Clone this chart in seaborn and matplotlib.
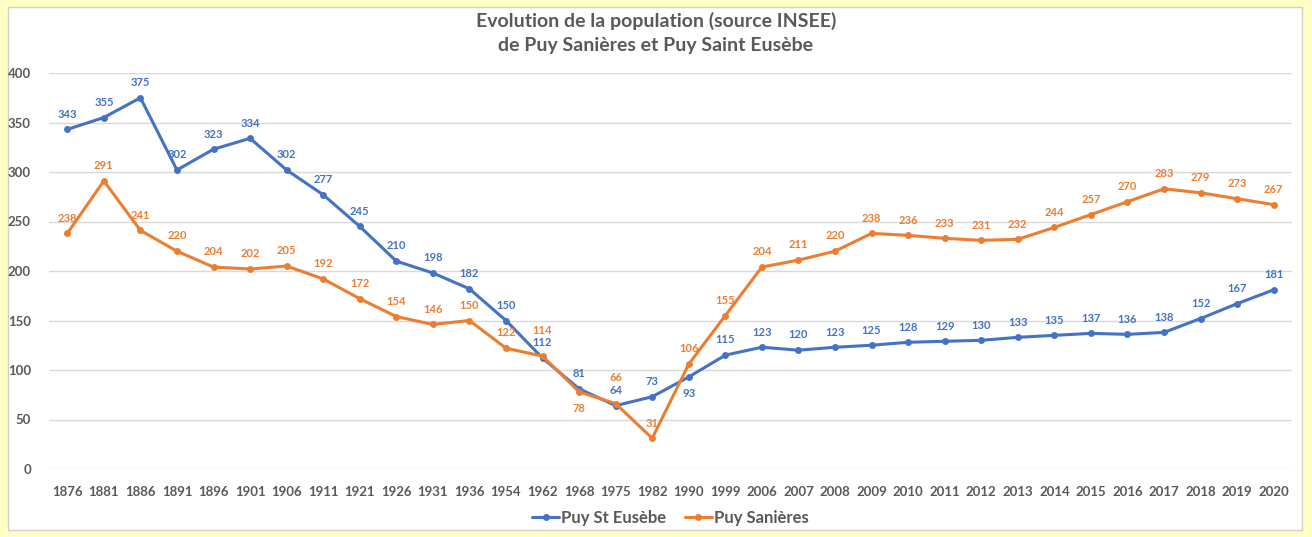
import numpy as np
import pandas as pd
import matplotlib
matplotlib.use("Agg")
import matplotlib.pyplot as plt
from matplotlib.patches import Rectangle
import seaborn as sns

years = ["1876", "1881", "1886", "1891", "1896", "1901", "1906", "1911", "1921", "1926",
         "1931", "1936", "1954", "1962", "1968", "1975", "1982", "1990", "1999", "2006",
         "2007", "2008", "2009", "2010", "2011", "2012", "2013", "2014", "2015", "2016",
         "2017", "2018", "2019", "2020"]
st_eusebe = [343, 355, 375, 302, 323, 334, 302, 277, 245, 210, 198, 182, 150, 112, 81, 64,
             73, 93, 115, 123, 120, 123, 125, 128, 129, 130, 133, 135, 137, 136, 138, 152,
             167, 181]
sanieres = [238, 291, 241, 220, 204, 202, 205, 192, 172, 154, 146, 150, 122, 114, 78, 66,
            31, 106, 155, 204, 211, 220, 238, 236, 233, 231, 232, 244, 257, 270, 283, 279,
            273, 267]
series_names = ["Puy St Eusèbe", "Puy Sanières"]
title = "Evolution de la population (source INSEE)\nde Puy Sanières et Puy Saint Eusèbe"

BLUE = "#4472C4"
ORANGE = "#ED7D31"
GREY = "#595959"

sns.set_theme(style="white")
plt.rcParams["font.family"] = ["Lato", "DejaVu Sans"]

df = pd.DataFrame({
    "year": years * 2,
    "pos": list(range(len(years))) * 2,
    "pop": st_eusebe + sanieres,
    "commune": [series_names[0]] * len(years) + [series_names[1]] * len(years),
})

fig = plt.figure(figsize=(13.12, 5.37), dpi=100, facecolor="#FFFFC4")
fig.patches.append(Rectangle((8 / 1312, 1 - 530 / 537), (1302 - 8) / 1312, (530 - 7) / 537,
                             transform=fig.transFigure, facecolor="white",
                             edgecolor="#D0D0D0", lw=1, zorder=-5))
ax = fig.add_axes([49 / 1312, (537 - 469) / 537, (1292 - 49) / 1312, (469 - 73) / 537])
ax.set_facecolor("white")
ax.patch.set_alpha(0)

sns.lineplot(data=df, x="pos", y="pop", hue="commune", palette=[BLUE, ORANGE],
             marker="o", markersize=5, markeredgewidth=0, linewidth=2.2, sort=False,
             ax=ax, zorder=3)

ax.set_xlim(-0.5, len(years) - 0.5)
ax.set_ylim(0, 400)
ax.set_yticks(range(0, 401, 50))
ax.set_xticks(range(len(years)))
ax.set_xticklabels(years)
ax.grid(axis="y", color="#D9D9D9", lw=1)
ax.set_axisbelow(True)
for s in ax.spines.values():
    s.set_visible(False)
ax.tick_params(axis="both", length=0, labelsize=9.5, labelcolor=GREY)
ax.tick_params(axis="y", pad=13)
ax.tick_params(axis="x", pad=12)
for lab in ax.get_xticklabels() + ax.get_yticklabels():
    lab.set_fontweight("bold")
ax.set_xlabel("")
ax.set_ylabel("")

below_blue = {"1990"}
below_orange = {"1968"}
stacked_orange = {"1962", "1975"}
for i, (yr, v) in enumerate(zip(years, st_eusebe)):
    off = -16 if yr in below_blue else 7
    ax.annotate(str(v), (i, v), xytext=(0, off), textcoords="offset points",
                ha="center", va="bottom", fontsize=8, fontweight="bold", color=BLUE)
for i, (yr, v) in enumerate(zip(years, sanieres)):
    if yr in below_orange:
        ax.annotate(str(v), (i, v), xytext=(0, -16), textcoords="offset points",
                    ha="center", va="bottom", fontsize=8, fontweight="bold", color=ORANGE)
    elif yr in stacked_orange:
        base = st_eusebe[i]
        ax.annotate(str(v), (i, base), xytext=(0, 16), textcoords="offset points",
                    ha="center", va="bottom", fontsize=8, fontweight="bold", color=ORANGE)
    else:
        ax.annotate(str(v), (i, v), xytext=(0, 7), textcoords="offset points",
                    ha="center", va="bottom", fontsize=8, fontweight="bold", color=ORANGE)

fig.text(0.5, 1 - 33 / 537, title, ha="center", va="center", fontsize=14,
         fontweight="bold", color=GREY, linespacing=1.45)

leg = ax.legend(loc="center", bbox_to_anchor=(0.5, -(518 - 469) / (469 - 73)),
                ncol=2, frameon=False, fontsize=12, handlelength=1.6, columnspacing=1.1,
                handletextpad=0.15)
for t in leg.get_texts():
    t.set_color(GREY)
    t.set_fontweight("bold")

fig.savefig("out.png", dpi=100, facecolor=fig.get_facecolor())
